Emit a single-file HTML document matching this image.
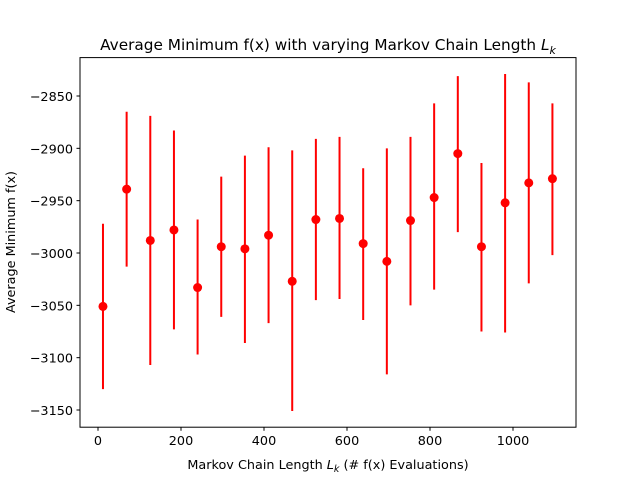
<!DOCTYPE html>
<html><head><meta charset="utf-8"><style>
body{margin:0;background:#fff}
svg{display:block;font-family:"DejaVu Sans","Liberation Sans",sans-serif}
</style></head><body>
<svg id="chart" width="640" height="480">
<rect width="640" height="480" fill="#fff"/>
<g id="marks"></g>
<rect x="80" y="57.6" width="496" height="369.6" fill="none" stroke="#000" stroke-width="1"/>
<g id="xticks"></g><g id="yticks"></g>
<text x="328" y="50" text-anchor="middle" font-size="15.3">Average Minimum f(x) with varying Markov Chain Length <tspan font-style="italic">L</tspan><tspan font-style="italic" font-size="11" dy="4">k</tspan></text>
<text x="328" y="469" text-anchor="middle" font-size="12.8">Markov Chain Length <tspan font-style="italic">L</tspan><tspan font-style="italic" font-size="9.5" dy="3">k</tspan><tspan dy="-3"> (# f(x) Evaluations)</tspan></text>
<text transform="translate(15,242) rotate(-90)" text-anchor="middle" font-size="12.8">Average Minimum f(x)</text>
</svg>
<script>
const xValues=[12,69,126,183,240,297,354,411,468,525,582,639,696,753,810,867,924,981,1038,1095];
const meanValues=[-3051,-2939,-2988,-2978,-3033,-2994,-2996,-2983,-3027,-2968,-2967,-2991,-3008,-2969,-2947,-2905,-2994,-2952,-2933,-2929];
const upperValues=[-2972,-2865,-2869,-2883,-2968,-2927,-2907,-2899,-2902,-2891,-2889,-2919,-2900,-2889,-2857,-2831,-2914,-2829,-2837,-2857];
const lowerValues=[-3130,-3013,-3107,-3073,-3097,-3061,-3086,-3067,-3151,-3045,-3044,-3064,-3116,-3050,-3035,-2980,-3075,-3076,-3029,-3002];
const xTicks=[0,200,400,600,800,1000];
const yTicks=[-3150,-3100,-3050,-3000,-2950,-2900,-2850];
const NS="http://www.w3.org/2000/svg";
const sx=v=>98+v*0.415;
const sy=v=>253-(v+3000)*1.0467;
const marks=document.getElementById('marks');
function mk(tag,attrs,parent){const e=document.createElementNS(NS,tag);for(const k in attrs)e.setAttribute(k,attrs[k]);parent.appendChild(e);return e;}
xValues.forEach((x,i)=>{
  const l=mk('line',{x1:sx(x),x2:sx(x),y1:sy(upperValues[i]),y2:sy(lowerValues[i]),stroke:'#ff0000','stroke-width':2},marks);
  
  
  const c=mk('circle',{cx:sx(x),cy:sy(meanValues[i]),r:4.5,fill:'#ff0000'},marks);
  
  
});
const xt=document.getElementById('xticks');
xTicks.forEach(t=>{
  const l=mk('line',{x1:sx(t),x2:sx(t),y1:427.2,y2:430.7,stroke:'#000'},xt);
  
  
  const tx=mk('text',{x:sx(t),y:445,'text-anchor':'middle','font-size':12.8},xt);
  tx.textContent=t;
  
  
});
const yt=document.getElementById('yticks');
yTicks.forEach(t=>{
  const l=mk('line',{x1:76.5,x2:80,y1:sy(t),y2:sy(t),stroke:'#000'},yt);
  
  
  const tx=mk('text',{x:73,y:sy(t)+5,'text-anchor':'end','font-size':12.8},yt);
  tx.textContent='\u2212'+Math.abs(t);
  
  
});
</script>
</body></html>
